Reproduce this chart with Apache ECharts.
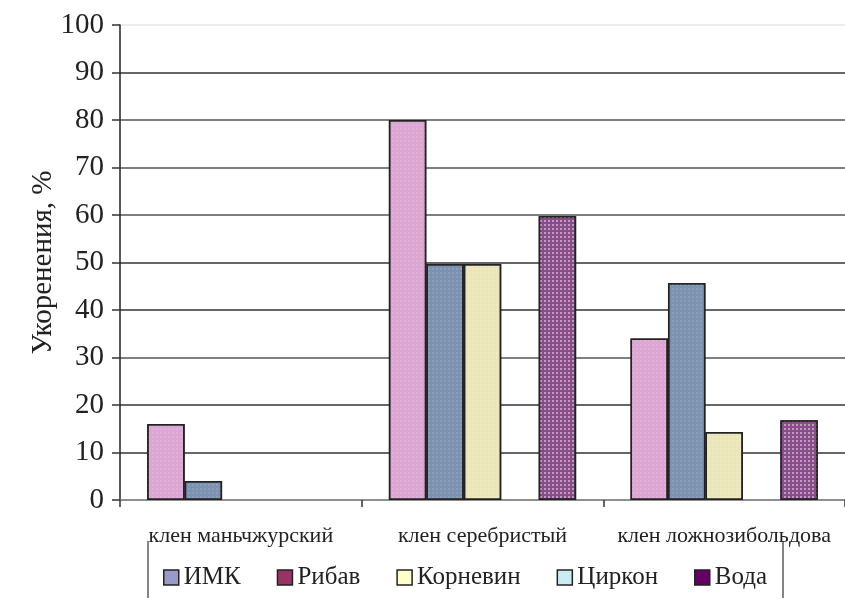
<!DOCTYPE html>
<html>
<head>
<meta charset="utf-8">
<script src="https://cdn.jsdelivr.net/npm/echarts@6/dist/echarts.min.js"></script>
<style>
  html, body { margin: 0; padding: 0; background: #fff; }
  #chart { width: 845px; height: 599px; }
</style>
</head>
<body>
<div id="chart"></div>
<script>
// Rooting percentage of maple cuttings by treatment
const categories = ['клен маньчжурский', 'клен серебристый', 'клен ложнозибольдова'];
const seriesNames = ['ИМК', 'Рибав', 'Корневин', 'Циркон', 'Вода'];
const imkValues = [16, 80, 34];
const ribavValues = [4, 49.7, 45.7];
const kornevinValues = [0, 49.7, 14.3];
const tsirkonValues = [0, 0, 0];
const vodaValues = [0, 59.8, 16.8];
const yTicks = [0, 10, 20, 30, 40, 50, 60, 70, 80, 90, 100];

const seriesValues = [imkValues, ribavValues, kornevinValues, tsirkonValues, vodaValues];
// bar fills
const barColors = ['#dca6d3', '#7d92b0', '#ebe6b9', '#d6f0f4', '#8a4b8a'];
// legend swatches
const legendColors = ['#9999cc', '#993366', '#ffffcc', '#ccecf4', '#660066'];

const font = '"Liberation Serif", "Times New Roman", serif';

const chart = echarts.init(document.getElementById('chart'), null, { renderer: 'canvas' });

const series = seriesNames.map((name, i) => ({
  name: name,
  type: 'bar',
  barGap: '0%',
  barCategoryGap: '22.5%',
  data: seriesValues[i].map(v => (v === 0 ? null : v)),
  itemStyle: {
    color: barColors[i],
    borderColor: '#222',
    borderWidth: 1.5,
    decal: {
      symbol: 'rect',
      symbolSize: 1,
      dashArrayX: [2, 2],
      dashArrayY: [2, 2],
      color: i === 4 ? 'rgba(255,255,255,0.45)' : 'rgba(255,255,255,0.12)'
    }
  },
  emphasis: { disabled: true }
}));

const option = {
  animation: false,
  backgroundColor: '#fff',
  grid: { left: 120, right: 0, top: 25, bottom: 99, containLabel: false },
  xAxis: {
    type: 'category',
    data: categories,
    axisLine: { show: true, lineStyle: { color: '#888', width: 1.5 } },
    axisTick: { show: true, alignWithLabel: false, length: 7, lineStyle: { color: '#333', width: 1.5 } },
    axisLabel: { interval: 0, hideOverlap: false, fontFamily: font, fontSize: 22, color: '#222', margin: 25 }
  },
  yAxis: {
    type: 'value',
    min: yTicks[0],
    max: yTicks[yTicks.length - 1],
    interval: 10,
    name: 'Укоренения, %',
    nameLocation: 'middle',
    nameGap: 62,
    nameMoveOverlap: false,
    nameTextStyle: { fontFamily: font, fontSize: 29, color: '#222' },
    axisLine: { show: true, lineStyle: { color: '#222', width: 1.5 } },
    axisTick: { show: true, inside: false, length: 8, lineStyle: { color: '#333', width: 1.5 } },
    axisLabel: { fontFamily: font, fontSize: 29, color: '#222', margin: 16 },
    splitLine: {
      show: true,
      lineStyle: {
        color: ['#888', '#333', '#333', '#555', '#333', '#333', '#555', '#555', '#555', '#333', '#e6e6e6'],
        width: 1.5
      }
    }
  },
  legend: {
    bottom: 4,
    left: 158,
    itemWidth: 15,
    itemHeight: 15,
    itemGap: 36,
    icon: 'rect',
    textStyle: { fontFamily: font, fontSize: 25, color: '#222' },
    data: seriesNames.map((name, i) => ({
      name: name,
      itemStyle: { color: legendColors[i], borderColor: '#222', borderWidth: 1.5, decal: 'none' }
    }))
  },
  graphic: [
    { type: 'line', shape: { x1: 148, y1: 541, x2: 148, y2: 598 }, style: { stroke: '#333', lineWidth: 1.2 } },
    { type: 'line', shape: { x1: 783, y1: 541, x2: 783, y2: 598 }, style: { stroke: '#333', lineWidth: 1.2 } }
  ],
  series: series
};

chart.setOption(option);
</script>
</body>
</html>
